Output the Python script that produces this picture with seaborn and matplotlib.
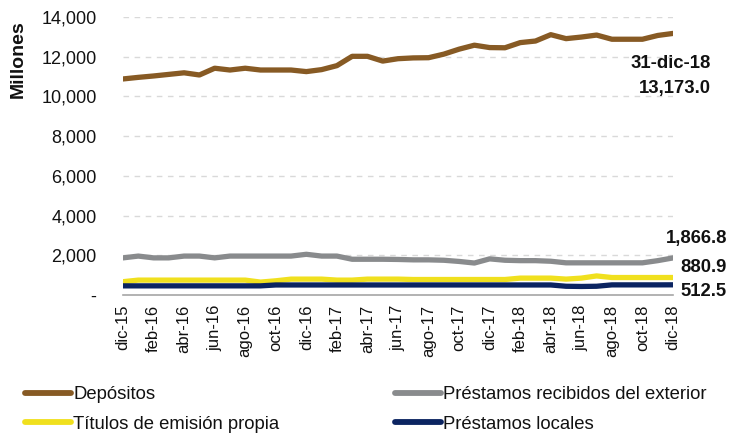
import matplotlib
matplotlib.use("Agg")
import matplotlib.pyplot as plt
import seaborn as sns
import pandas as pd

months = ["ene", "feb", "mar", "abr", "may", "jun", "jul", "ago", "sep", "oct", "nov", "dic"]
periods = ["dic-15"] + [f"{m}-{y}" for y in ("16", "17", "18") for m in months]

depositos = [10880, 10960, 11030, 11110, 11190, 11080, 11420, 11330, 11420, 11330, 11330, 11330,
             11250, 11350, 11550, 12020, 12020, 11780, 11900, 11940, 11950, 12130, 12380, 12580,
             12460, 12450, 12710, 12790, 13110, 12910, 12990, 13090, 12880, 12880, 12880, 13070, 13173.0]
prest_exterior = [1870, 1960, 1870, 1870, 1960, 1960, 1870, 1960, 1960, 1960, 1960, 1960,
                  2050, 1960, 1960, 1800, 1800, 1800, 1790, 1770, 1770, 1750, 1690, 1610,
                  1820, 1750, 1730, 1730, 1700, 1620, 1620, 1620, 1620, 1620, 1620, 1730, 1866.8]
titulos = [670, 750, 750, 750, 750, 750, 750, 750, 750, 650, 715, 800,
           800, 800, 750, 750, 800, 800, 800, 780, 780, 780, 780, 780,
           780, 780, 850, 850, 850, 800, 850, 960, 880, 880, 880, 880, 880.9]
prest_locales = [460] * 10 + [505] * 19 + [440, 430, 440] + [510] * 4 + [512.5]

series_names = ["Depósitos", "Préstamos recibidos del exterior", "Títulos de emisión propia", "Préstamos locales"]
series_values = [depositos, prest_exterior, titulos, prest_locales]
colors = ["#875A24", "#898B8D", "#F0E01E", "#0B2461"]

yticks = [0, 2000, 4000, 6000, 8000, 10000, 12000, 14000]
ytick_labels = ["-", "2,000", "4,000", "6,000", "8,000", "10,000", "12,000", "14,000"]
end_labels = ["13,173.0", "1,866.8", "880.9", "512.5"]

rows = []
for name, vals in zip(series_names, series_values):
    for i, v in enumerate(vals):
        rows.append({"idx": i, "valor": v, "serie": name})
df = pd.DataFrame(rows)

sns.set_theme(style="white")
plt.rcParams["font.family"] = ["Liberation Sans", "DejaVu Sans"]
TXT = "#111111"

fig = plt.figure(figsize=(7.30, 4.34), dpi=100)
ax = fig.add_axes([123 / 730, 1 - 295 / 434, (673 - 123) / 730, (295 - 17) / 434])

order_draw = [1, 2, 3, 0]
for k in order_draw:
    sub = df[df["serie"] == series_names[k]]
    sns.lineplot(data=sub, x="idx", y="valor", ax=ax, color=colors[k], linewidth=3.8,
                 legend=False, solid_capstyle="round", zorder=3 + k)

ax.set_xlim(0, 36)
ax.set_ylim(0, 14000)
ax.set_yticks(yticks)
ax.set_yticklabels(ytick_labels, fontsize=13, color=TXT)
ax.set_xticks(list(range(0, 37, 2)))
ax.set_xticklabels([periods[i] for i in range(0, 37, 2)], rotation=90, fontsize=12, color=TXT)
ax.tick_params(axis="y", length=0, pad=19)
ax.tick_params(axis="x", length=0, pad=7)
ax.set_xlabel("")
ax.set_ylabel("")
for g in yticks[1:]:
    ax.axhline(g, color="#D9D9D9", linestyle=(0, (4, 4)), linewidth=1.0, zorder=1)
for s in ["top", "right", "left"]:
    ax.spines[s].set_visible(False)
ax.spines["bottom"].set_color("#A6A6A6")
ax.spines["bottom"].set_linewidth(1.2)

fig.text(18 / 730, 1 - 59 / 434, "Millones", rotation=90, ha="center", va="center",
         fontsize=14, fontweight="bold", color=TXT)

fig.text(711 / 730, 1 - 63 / 434, "31-dic-18", ha="right", va="center", fontsize=13.3,
         fontweight="bold", color=TXT)
fig.text(711 / 730, 1 - 88 / 434, end_labels[0], ha="right", va="center", fontsize=13.3,
         fontweight="bold", color=TXT)
for lab, yy in zip(end_labels[1:], [239, 267, 292]):
    fig.text(727 / 730, 1 - yy / 434, lab, ha="right", va="center", fontsize=13.3,
             fontweight="bold", color=TXT)

handles = [plt.Line2D([0], [0], color=c, linewidth=4.2, solid_capstyle="round") for c in colors]
common = dict(loc="upper left", frameon=False, fontsize=13.3, handlelength=2.5, handletextpad=0.12,
              labelspacing=0.7, borderaxespad=0, borderpad=0, labelcolor=TXT)
leg1 = fig.legend([handles[0], handles[2]], [series_names[0], series_names[2]],
                  bbox_to_anchor=(25 / 730, 1 - 386 / 434), **common)
leg2 = fig.legend([handles[1], handles[3]], [series_names[1], series_names[3]],
                  bbox_to_anchor=(395 / 730, 1 - 386 / 434), **common)

fig.savefig("out.png", dpi=100)
